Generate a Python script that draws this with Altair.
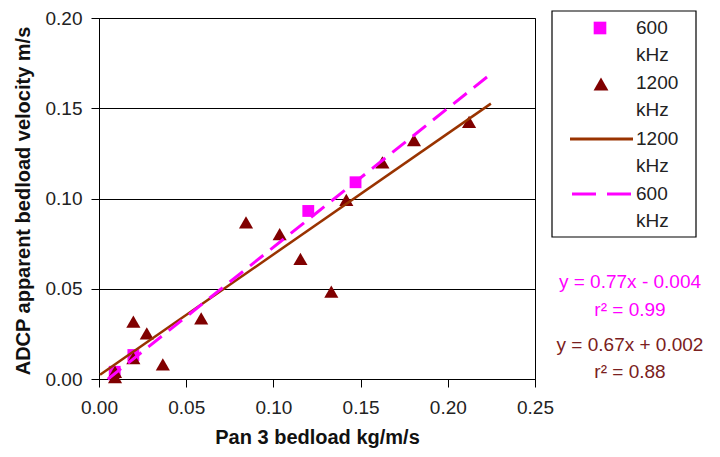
import altair as alt
import pandas as pd

# ---- data ----
tri_x = [0.0092, 0.0092, 0.0197, 0.0197, 0.0274, 0.0366, 0.0586, 0.0843, 0.1036,
         0.1155, 0.1332, 0.1418, 0.1625, 0.1806, 0.2122]
tri_y = [0.004, 0.001, 0.0115, 0.0318, 0.0253, 0.0081, 0.0336, 0.0868, 0.0803,
         0.0665, 0.0484, 0.0992, 0.1200, 0.1324, 0.1425]
sq_x = [0.0090, 0.0197, 0.1200, 0.1471]
sq_y = [0.0040, 0.0133, 0.0931, 0.1090]

fit_names = ["1200 kHz", "600 kHz"]
fit_slope = [0.67, 0.77]
fit_icpt = [0.002, -0.004]
fit_xmin = [0.0006, 0.005]
fit_xmax = [0.2247, 0.2237]

x_ticks = [0.0, 0.05, 0.10, 0.15, 0.20, 0.25]
y_ticks = [0.0, 0.05, 0.10, 0.15, 0.20]

legend_labels = ["600\nkHz", "1200\nkHz", "1200\nkHz", "600\nkHz"]
eq_texts = ["y = 0.77x - 0.004", "r\u00b2 = 0.99", "y = 0.67x + 0.002", "r\u00b2 = 0.88"]

MAGENTA = "#FF00FF"
DARKRED = "#800000"
BROWN = "#993300"
EQ_BROWN = "#7a2020"
FONT = "Liberation Sans"

tri_df = pd.DataFrame({"x": tri_x, "y": tri_y})
sq_df = pd.DataFrame({"x": sq_x, "y": sq_y})
line_rows = []
for n, s, b, x0, x1 in zip(fit_names, fit_slope, fit_icpt, fit_xmin, fit_xmax):
    line_rows.append({"series": n, "x": x0, "y": s * x0 + b})
    line_rows.append({"series": n, "x": x1, "y": s * x1 + b})
line_df = pd.DataFrame(line_rows)

W, H = 436, 361

xs = alt.Scale(domain=[0, 0.25], nice=False, zero=False)
ys = alt.Scale(domain=[0, 0.2], nice=False, zero=False)

xaxis = alt.Axis(values=x_ticks, format=".2f", grid=False, title="Pan 3 bedload kg/m/s",
                 titleX=W / 2, titleY=58, titleBaseline="middle", titleAlign="center",
                 labelPadding=11, labelFlush=False)
yaxis = alt.Axis(values=y_ticks, format=".2f", grid=True, gridColor="black", gridWidth=1,
                 title="ADCP apparent bedload velocity m/s",
                 titleX=-76, titleY=H / 2 + 2, titleBaseline="middle", titleAlign="center",
                 titleAngle=-90, labelPadding=9, labelFlush=False)

base_x = alt.X("x:Q", scale=xs, axis=xaxis)
base_y = alt.Y("y:Q", scale=ys, axis=yaxis)

squares = alt.Chart(sq_df).mark_point(shape="square", filled=True, size=140,
                                       color=MAGENTA, opacity=1).encode(x=base_x, y=base_y)
tris = alt.Chart(tri_df).mark_point(shape="triangle-up", filled=True, size=200,
                                     color=DARKRED, opacity=1).encode(
    x=alt.X("x:Q", scale=xs), y=alt.Y("y:Q", scale=ys))
brown_line = alt.Chart(line_df[line_df.series == "1200 kHz"]).mark_line(
    color=BROWN, strokeWidth=2.5).encode(x=alt.X("x:Q", scale=xs), y=alt.Y("y:Q", scale=ys))
mag_line = alt.Chart(line_df[line_df.series == "600 kHz"]).mark_line(
    color=MAGENTA, strokeWidth=3, strokeDash=[17, 9]).encode(
    x=alt.X("x:Q", scale=xs), y=alt.Y("y:Q", scale=ys))

one = pd.DataFrame({"k": [0]})

layers = [squares, tris, brown_line, mag_line]

# ---- manual legend (outside plot area) ----
layers.append(alt.Chart(one).mark_rect(fill="white", stroke="black", strokeWidth=1.2).encode(
    x=alt.value(453), x2=alt.value(597), y=alt.value(-7), y2=alt.value(219)))
layers.append(alt.Chart(one).mark_point(shape="square", filled=True, size=160, color=MAGENTA,
                                        opacity=1).encode(x=alt.value(501), y=alt.value(10)))
layers.append(alt.Chart(one).mark_point(shape="triangle-up", filled=True, size=220,
                                        color=DARKRED, opacity=1).encode(
    x=alt.value(502), y=alt.value(66)))
layers.append(alt.Chart(one).mark_rule(color=BROWN, strokeWidth=3).encode(
    x=alt.value(471), x2=alt.value(534), y=alt.value(121)))
layers.append(alt.Chart(one).mark_rule(color=MAGENTA, strokeWidth=3, strokeDash=[24, 11]).encode(
    x=alt.value(473), x2=alt.value(532), y=alt.value(176)))
for lab, ly in zip(legend_labels, [10, 65, 121, 176]):
    first, second = lab.split("\n")
    layers.append(alt.Chart(one).mark_text(text=first, align="left", baseline="middle",
                                           font=FONT, fontSize=19, color="#222222").encode(
        x=alt.value(537), y=alt.value(ly)))
    layers.append(alt.Chart(one).mark_text(text=second, align="left", baseline="middle",
                                           font=FONT, fontSize=19, color="#222222").encode(
        x=alt.value(537), y=alt.value(ly + 27)))

# ---- equation annotations ----
for t, ty, c in zip(eq_texts, [264, 292, 327, 354], [MAGENTA, MAGENTA, EQ_BROWN, EQ_BROWN]):
    layers.append(alt.Chart(one).mark_text(text=t, align="center", baseline="middle",
                                           font=FONT, fontSize=19, color=c).encode(
        x=alt.value(531), y=alt.value(ty)))

chart = alt.layer(*layers).properties(
    width=W, height=H,
    background="white",
    autosize=alt.AutoSizeParams(type="none"),
    padding={"left": 91, "top": 10, "right": 177, "bottom": 70},
).configure_view(stroke="black", strokeWidth=1).configure_axis(
    labelFont=FONT, labelFontSize=19, labelColor="#222222",
    titleFont=FONT, titleFontSize=20, titleFontWeight="bold", titleColor="#111111",
    domainColor="black", domainWidth=1, tickColor="black", tickSize=8, tickWidth=1,
)

chart.save("out.html", embed_options={"renderer": "svg", "actions": False})
